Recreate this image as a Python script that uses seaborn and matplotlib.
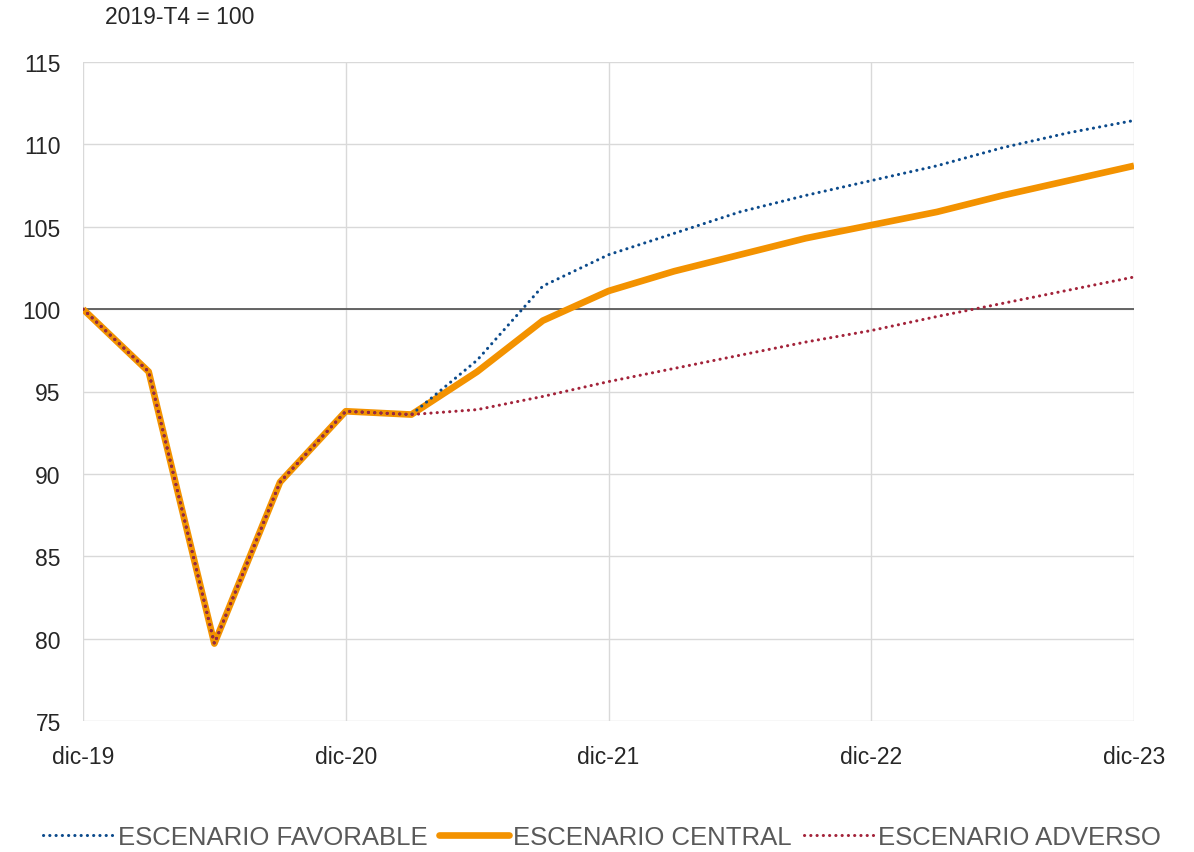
import numpy as np
import pandas as pd
import matplotlib
matplotlib.use("Agg")
import matplotlib.pyplot as plt
import seaborn as sns

quarters = ["dic-19", "mar-20", "jun-20", "sep-20", "dic-20", "mar-21", "jun-21", "sep-21",
            "dic-21", "mar-22", "jun-22", "sep-22", "dic-22", "mar-23", "jun-23", "sep-23", "dic-23"]
favorable = [100.0, 96.2, 79.7, 89.5, 93.8, 93.6, 96.9, 101.4, 103.3, 104.6, 105.9, 106.9,
             107.8, 108.7, 109.8, 110.7, 111.45]
central = [100.0, 96.2, 79.7, 89.5, 93.8, 93.6, 96.2, 99.3, 101.1, 102.3, 103.3, 104.3,
           105.1, 105.9, 106.9, 107.8, 108.7]
adverso = [100.0, 96.2, 79.7, 89.5, 93.8, 93.6, 93.9, 94.7, 95.6, 96.4, 97.2, 98.0,
           98.7, 99.55, 100.35, 101.15, 101.95]
series_names = ["ESCENARIO FAVORABLE", "ESCENARIO CENTRAL", "ESCENARIO ADVERSO"]
tick_labels = ["dic-19", "dic-20", "dic-21", "dic-22", "dic-23"]
y_ticks = [75, 80, 85, 90, 95, 100, 105, 110, 115]
base_label = "2019-T4 = 100"

sns.set_theme(style="white")
plt.rcParams['font.family'] = ['Liberation Sans', 'DejaVu Sans']

idx = np.arange(len(quarters))
df = pd.DataFrame({
    "t": np.tile(idx, 3),
    "value": favorable + central + adverso,
    "serie": np.repeat(series_names, len(quarters)),
})

fig = plt.figure(figsize=(11.94, 8.53), dpi=100)
ax = fig.add_axes([83/1194, 1-722/853, (1134-83)/1194, (722-63)/853])

palette = {series_names[0]: "#0b4a8b", series_names[1]: "#f39200", series_names[2]: "#a3233a"}
dot = (0, (0.05, 2.0))
styles = {
    series_names[0]: dict(lw=2.2, ls=dot, z=3),
    series_names[1]: dict(lw=4.8, ls="-", z=2),
    series_names[2]: dict(lw=2.2, ls=dot, z=4),
}
for name in series_names:
    sub = df[df["serie"] == name]
    st = styles[name]
    sns.lineplot(data=sub, x="t", y="value", ax=ax, color=palette[name], linewidth=st["lw"],
                 linestyle=st["ls"], label=name, zorder=st["z"], legend=False,
                 solid_capstyle="butt", dash_capstyle="round")

ax.axhline(100, color="#595959", lw=1.3, zorder=1)

ax.set_xlim(0, len(quarters) - 1)
ax.set_ylim(75, 115)
ax.set_yticks(y_ticks)
ax.set_yticklabels([str(v) for v in y_ticks], fontsize=16.5, color="#262626")
xt = [quarters.index(l) for l in tick_labels]
ax.set_xticks(xt)
ax.set_xticklabels(tick_labels, fontsize=16.5, color="#262626")
ax.tick_params(axis="x", pad=17, length=0)
ax.tick_params(axis="y", pad=16, length=0)
ax.grid(True, color="#d9d9d9", lw=1.0)
ax.set_axisbelow(True)
for s in ax.spines.values():
    s.set_visible(False)
ax.set_xlabel("")
ax.set_ylabel("")

fig.text(105/1194, 1-18/853, base_label, fontsize=16.5, color="#262626", va="center", ha="left")

handles = [plt.Line2D([0], [0], color=palette[n], lw=styles[n]["lw"], linestyle=styles[n]["ls"],
                      dash_capstyle="round") for n in series_names]
leg = fig.legend(handles, series_names, loc="center", bbox_to_anchor=(602/1194, 1-838/853), ncol=3,
                 frameon=False, fontsize=18.5, handlelength=2.75, handletextpad=0.15, columnspacing=0.45,
                 labelcolor="#595959")

fig.savefig("out.png", dpi=100)
